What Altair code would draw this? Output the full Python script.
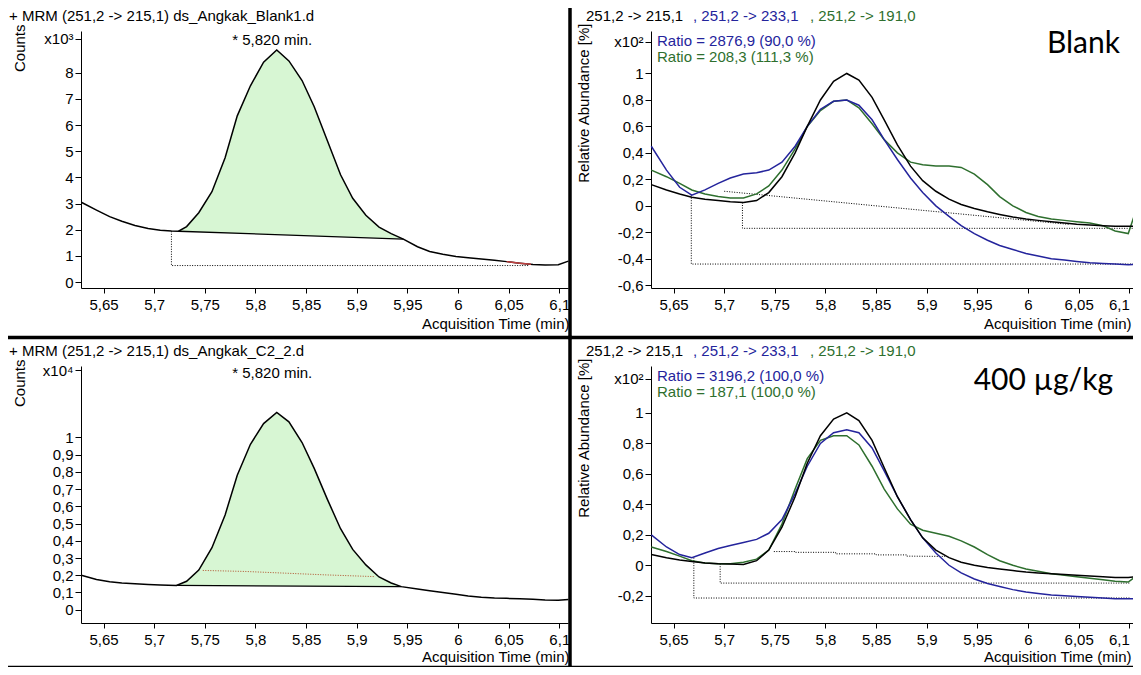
import altair as alt
import pandas as pd
import numpy as np

FONT = "Liberation Sans"
BIG_FONT = "Lato"
FS = 15
BLACK = "#000000"
BLUE = "#24249c"
GREEN = "#2e6f2e"
FILL = "#d7f6d3"
RED = "#c04040"

W = 487
H = 257
X_DOMAIN = [5.6277, 6.1086]
X_TICKS = [5.65, 5.70, 5.75, 5.80, 5.85, 5.90, 5.95, 6.00, 6.05, 6.10]

# ---------------- top-left: Blank, counts x10^3 ----------------
TL_T = [5.628, 5.643, 5.656, 5.668, 5.681, 5.694, 5.706, 5.717, 5.724, 5.732,
        5.744, 5.757, 5.770, 5.782, 5.795, 5.808, 5.821, 5.833, 5.846, 5.858,
        5.871, 5.884, 5.896, 5.909, 5.922, 5.934, 5.946, 5.960, 5.972, 5.985,
        5.998, 6.010, 6.023, 6.036, 6.048, 6.061, 6.074, 6.086, 6.099, 6.109]
TL_V = [3.05, 2.75, 2.50, 2.32, 2.16, 2.05, 1.98, 1.95, 1.94, 2.12,
        2.65, 3.45, 4.75, 6.35, 7.50, 8.40, 8.87, 8.45, 7.70, 6.70,
        5.40, 4.10, 3.20, 2.55, 2.10, 1.85, 1.64, 1.35, 1.17, 1.06,
        0.98, 0.93, 0.88, 0.83, 0.78, 0.72, 0.67, 0.65, 0.66, 0.80]
TL_BASE_T = [5.724, 5.946]
TL_BASE_V = [1.94, 1.64]
TL_DOT_T = [5.717, 5.717, 6.070]
TL_DOT_V = [1.94, 0.63, 0.63]
TL_RED_T = [6.048, 6.061, 6.072]
TL_Y_TICKS = [0, 1, 2, 3, 4, 5, 6, 7, 8]
TL_Y_DOMAIN = [-0.228, 9.593]
TL_TOP = 9.29

# ---------------- bottom-left: 400 ug/kg, counts x10^4 ----------------
BL_T = [5.628, 5.643, 5.656, 5.668, 5.681, 5.694, 5.706, 5.722, 5.732, 5.744,
        5.757, 5.770, 5.782, 5.795, 5.808, 5.821, 5.833, 5.846, 5.858, 5.871,
        5.884, 5.896, 5.909, 5.922, 5.934, 5.944, 5.960, 5.972, 5.985, 5.998,
        6.010, 6.023, 6.036, 6.048, 6.061, 6.074, 6.086, 6.099, 6.109]
BL_V = [0.200, 0.175, 0.162, 0.155, 0.150, 0.146, 0.143, 0.141, 0.165, 0.230,
        0.360, 0.550, 0.780, 0.960, 1.080, 1.145, 1.090, 0.970, 0.820, 0.640,
        0.470, 0.350, 0.260, 0.190, 0.155, 0.134, 0.120, 0.110, 0.100, 0.090,
        0.080, 0.072, 0.068, 0.066, 0.064, 0.061, 0.056, 0.055, 0.060]
BL_BASE_T = [5.722, 5.944]
BL_BASE_V = [0.141, 0.134]
BL_DOT_T = [5.748, 5.790, 5.830, 5.870, 5.918]
BL_DOT_V = [0.228, 0.222, 0.212, 0.202, 0.192]
BL_Y_TICKS = [0, 0.1, 0.2, 0.3, 0.4, 0.5, 0.6, 0.7, 0.8, 0.9, 1.0]
BL_Y_DOMAIN = [-0.077, 1.414]
BL_TOP = 1.39

# ---------------- right panels: relative abundance x10^2 ----------------
T = [5.628, 5.643, 5.656, 5.668, 5.681, 5.694, 5.706, 5.719, 5.732, 5.744,
     5.757, 5.770, 5.782, 5.795, 5.808, 5.821, 5.833, 5.846, 5.858, 5.871,
     5.884, 5.896, 5.909, 5.922, 5.934, 5.947, 5.960, 5.972, 5.985, 5.998,
     6.010, 6.023, 6.036, 6.048, 6.061, 6.074, 6.086, 6.099, 6.109]
TR_BLACK = [0.16, 0.12, 0.09, 0.065, 0.05, 0.04, 0.03, 0.025, 0.04, 0.10,
            0.22, 0.40, 0.60, 0.80, 0.94, 1.00, 0.95, 0.82, 0.65, 0.46,
            0.30, 0.19, 0.11, 0.05, 0.01, -0.02, -0.045, -0.065, -0.085, -0.10,
            -0.11, -0.12, -0.13, -0.14, -0.145, -0.15, -0.155, -0.155, -0.155]
TR_BLUE = [0.45, 0.27, 0.14, 0.08, 0.12, 0.17, 0.21, 0.24, 0.25, 0.27,
           0.33, 0.45, 0.60, 0.73, 0.79, 0.80, 0.76, 0.65, 0.50, 0.35,
           0.21, 0.10, 0.00, -0.08, -0.15, -0.21, -0.26, -0.30, -0.33, -0.36,
           -0.38, -0.40, -0.41, -0.42, -0.43, -0.435, -0.44, -0.445, -0.44]
TR_GREEN = [0.27, 0.22, 0.17, 0.12, 0.09, 0.07, 0.06, 0.06, 0.09, 0.15,
            0.27, 0.43, 0.60, 0.72, 0.79, 0.80, 0.74, 0.62, 0.50, 0.40,
            0.33, 0.31, 0.30, 0.30, 0.29, 0.24, 0.16, 0.07, 0.00, -0.05,
            -0.08, -0.10, -0.11, -0.12, -0.13, -0.15, -0.19, -0.21, 0.02]
BR_BLACK = [0.07, 0.05, 0.035, 0.025, 0.015, 0.01, 0.008, 0.005, 0.03, 0.10,
            0.25, 0.45, 0.67, 0.85, 0.96, 1.00, 0.95, 0.82, 0.64, 0.45,
            0.30, 0.18, 0.10, 0.05, 0.02, 0.00, -0.015, -0.025, -0.035, -0.045,
            -0.05, -0.055, -0.06, -0.065, -0.07, -0.075, -0.08, -0.08, -0.075]
BR_BLUE = [0.20, 0.12, 0.07, 0.05, 0.08, 0.11, 0.13, 0.15, 0.17, 0.21,
           0.30, 0.47, 0.65, 0.80, 0.87, 0.89, 0.87, 0.77, 0.62, 0.45,
           0.30, 0.18, 0.08, 0.00, -0.05, -0.09, -0.12, -0.14, -0.16, -0.175,
           -0.185, -0.195, -0.20, -0.205, -0.21, -0.215, -0.22, -0.22, -0.22]
BR_GREEN = [0.12, 0.09, 0.06, 0.03, 0.015, 0.01, 0.01, 0.02, 0.04, 0.10,
            0.27, 0.50, 0.70, 0.82, 0.85, 0.85, 0.79, 0.65, 0.50, 0.37,
            0.27, 0.23, 0.21, 0.19, 0.16, 0.12, 0.07, 0.03, 0.00, -0.025,
            -0.04, -0.055, -0.065, -0.075, -0.085, -0.095, -0.105, -0.11, -0.06]

TR_DOTS = [
    ([5.6675, 5.6675, 6.105], [0.08, -0.44, -0.44]),
    ([5.718, 5.718, 6.105], [0.025, -0.17, -0.17]),
    ([5.700, 6.040], [0.11, -0.14]),
]
BR_DOTS = [
    ([5.670, 5.670, 6.101], [0.05, -0.215, -0.215]),
    ([5.696, 5.696, 6.101], [0.01, -0.117, -0.117]),
    ([5.749, 5.770, 5.770, 5.810, 5.810, 5.850, 5.850, 5.880, 5.880, 5.918],
     [0.090, 0.090, 0.085, 0.085, 0.075, 0.075, 0.068, 0.068, 0.060, 0.058]),
]
TR_Y_TICKS = [-0.6, -0.4, -0.2, 0, 0.2, 0.4, 0.6, 0.8, 1.0]
TR_Y_DOMAIN = [-0.621, 1.321]
TR_TOP = 1.238
BR_Y_TICKS = [-0.2, 0, 0.2, 0.4, 0.6, 0.8, 1.0]
BR_Y_DOMAIN = [-0.379, 1.308]
BR_TOP = 1.223

TITLE_TL = "+ MRM (251,2 -> 215,1) ds_Angkak_Blank1.d"
TITLE_BL = "+ MRM (251,2 -> 215,1) ds_Angkak_C2_2.d"
HEAD_R = ["251,2 -> 215,1", ", 251,2 -> 233,1", ", 251,2 -> 191,0"]
RATIO_TR = ["Ratio = 2876,9 (90,0 %)", "Ratio = 208,3 (111,3 %)"]
RATIO_BR = ["Ratio = 3196,2 (100,0 %)", "Ratio = 187,1 (100,0 %)"]
PEAK_LABEL = "* 5,820 min."

one = pd.DataFrame({"a": [0]})
xs = alt.Scale(domain=X_DOMAIN, nice=False, zero=False)


def xaxis(title_x, title_y, flush_last):
    extra = {}
    if flush_last:
        extra["labelAlign"] = alt.condition("datum.value > 6.09",
                                            alt.value("right"), alt.value("center"))
    return alt.Axis(values=X_TICKS, format=".2~f",
                    labelExpr="replace(datum.label, '.', ',')",
                    title="Acquisition Time (min)", titleAlign="right",
                    titleX=title_x, titleY=title_y, titleBaseline="middle",
                    titleFontWeight="normal", titleFont=FONT, titleFontSize=FS,
                    titleColor=BLACK, labelFont=FONT, labelFontSize=FS,
                    labelColor=BLACK, tickColor=BLACK, domainColor=BLACK,
                    tickSize=5, labelPadding=4, grid=False,
                    labelOverlap=False, labelFlush=False, **extra)


def yaxis(ticks, fmt, top_val, top_label, title, tx, ty):
    expr = ("datum.value > %f ? '%s' : replace(replace(datum.label, '.', ','), '\u2212', '-')"
            % (top_val - 0.001, top_label))
    return alt.Axis(values=ticks + [top_val], format=fmt, labelExpr=expr,
                    title=title, titleAngle=270, titleAlign="right",
                    titleBaseline="middle", titleX=tx, titleY=ty,
                    titleFontWeight="normal", titleFont=FONT, titleFontSize=FS,
                    titleColor=BLACK, labelFont=FONT, labelFontSize=FS,
                    labelColor=BLACK, tickColor=BLACK, domainColor=BLACK,
                    tickSize=6, labelPadding=2, grid=False,
                    labelOverlap=False, labelFlush=False)


def txt(s, x, y, color=BLACK, size=FS, align="left", font=FONT):
    return alt.Chart(one).mark_text(text=s, align=align, baseline="middle",
                                    font=font, fontSize=size, color=color
                                    ).encode(x=alt.value(x), y=alt.value(y))


def rule(x, x2, y, y2, color=BLACK, sw=3.0):
    return alt.Chart(one).mark_rule(color=color, strokeWidth=sw).encode(
        x=alt.value(x), x2=alt.value(x2), y=alt.value(y), y2=alt.value(y2))


def line(ts, vs, X, Y, color, sw=1.5, dash=None):
    df = pd.DataFrame({"t": ts, "v": vs, "o": list(range(len(ts)))})
    kw = dict(color=color, strokeWidth=sw)
    if dash:
        kw["strokeDash"] = dash
    return alt.Chart(df).mark_line(**kw).encode(x=X, y=Y, order=alt.Order("o:Q"))


def left_panel(ts, vs, base_t, base_v, dot_layers, yticks, fmt, ydom, top, top_label,
               title, peak_v, title_y, red_t=None):
    X = alt.X("t:Q", scale=xs, axis=xaxis(W + 1, title_y, False))
    Y = alt.Y("v:Q", scale=alt.Scale(domain=ydom, nice=False, zero=False),
              axis=yaxis(yticks, fmt, top, top_label, "Counts", -62, -7))
    ts_a = np.array(ts)
    vs_a = np.array(vs)
    m = (ts_a >= base_t[0] - 1e-9) & (ts_a <= base_t[-1] + 1e-9)
    fill_df = pd.DataFrame({"t": ts_a[m], "v": vs_a[m],
                            "b": np.interp(ts_a[m], base_t, base_v)})
    layers = [
        alt.Chart(fill_df).mark_area(color=FILL, opacity=1).encode(
            x=X, y=Y, y2=alt.Y2("b:Q")),
        line(base_t, base_v, X, Y, BLACK, 1.3),
    ]
    for (dt, dv, col) in dot_layers:
        layers.append(line(dt, dv, X, Y, col, 1.0, [1, 1.5]))
    layers.append(line(ts, vs, X, Y, BLACK, 1.5))
    if red_t is not None:
        layers.append(line(red_t, list(np.interp(red_t, ts, vs)), X, Y, RED, 1.5))
    pk = pd.DataFrame({"t": [5.8165], "v": [peak_v], "s": [PEAK_LABEL]})
    layers.append(alt.Chart(pk).mark_text(font=FONT, fontSize=FS, color=BLACK,
                                          baseline="middle").encode(x=X, y=Y, text="s:N"))
    layers.append(txt(title, -72, -15))
    return layers


# ---------- top-left ----------
tl_layers = left_panel(TL_T, TL_V, TL_BASE_T, TL_BASE_V,
                       [(TL_DOT_T, TL_DOT_V, BLACK)], TL_Y_TICKS, "d",
                       TL_Y_DOMAIN, TL_TOP, "x10\u00b3\u00a0\u00a0", TITLE_TL, 9.25, 35,
                       TL_RED_T)
tl_layers += [
    rule(489, 489, -40, 308, BLACK, 3.5),          # vertical divider
    rule(-90, 491, 306.5, 306.5, BLACK, 3.5),      # horizontal divider
]
tl = alt.layer(*tl_layers).properties(width=W, height=H)

# ---------- bottom-left ----------
bl_layers = left_panel(BL_T, BL_V, BL_BASE_T, BL_BASE_V,
                       [(BL_DOT_T, BL_DOT_V, "#b0502a")], BL_Y_TICKS, ".1~f",
                       BL_Y_DOMAIN, BL_TOP, "x10\u2074", TITLE_BL, 1.374, 33)
bl_layers += [
    rule(489, 489, -30, 302, BLACK, 3.5),
    rule(-90, 491, 300.8, 300.8, BLACK, 2.0),
]
bl = alt.layer(*bl_layers).properties(width=W, height=H)


def right_panel(black, blue, green, dots, yticks, ydom, top, ratios, big, big_x, big_y,
                bottom):
    X = alt.X("t:Q", scale=xs, axis=xaxis(480, 33 if bottom else 35, True))
    Y = alt.Y("v:Q", scale=alt.Scale(domain=ydom, nice=False, zero=False),
              axis=yaxis(yticks, ".1~f", top, "x10\u00b2", "Relative Abundance [%]",
                         -68, -8))
    layers = []
    for (dt, dv) in dots:
        layers.append(line(dt, dv, X, Y, BLACK, 1.0, [1, 1.5]))
    layers += [
        line(T, green, X, Y, GREEN, 1.5),
        line(T, blue, X, Y, BLUE, 1.5),
        line(T, black, X, Y, BLACK, 1.5),
        txt(HEAD_R[0], -65, -15, BLACK),
        txt(HEAD_R[1], 42, -15, BLUE),
        txt(HEAD_R[2], 159, -15, GREEN),
        txt(ratios[0], 6, 10, BLUE),
        txt(ratios[1], 6, 26, GREEN),
        txt(big, big_x, big_y, BLACK, 30, "right", BIG_FONT),
    ]
    if bottom:
        layers += [rule(487.5, 487.5, -30, 302, BLACK, 2.0),
                   rule(-83, 490, 300.8, 300.8, BLACK, 2.0)]
    else:
        layers += [rule(487.5, 487.5, -40, 308, BLACK, 2.0),
                   rule(-83, 490, 306.5, 306.5, BLACK, 3.5)]
    return alt.layer(*layers).properties(width=W, height=H)


tr = right_panel(TR_BLACK, TR_BLUE, TR_GREEN, TR_DOTS, TR_Y_TICKS, TR_Y_DOMAIN, TR_TOP,
                 RATIO_TR, "Blank", 469, 13, False)
br = right_panel(BR_BLACK, BR_BLUE, BR_GREEN, BR_DOTS, BR_Y_TICKS, BR_Y_DOMAIN, BR_TOP,
                 RATIO_BR, "400 \u00b5g/kg", 462, 15, True)

# Fixed canvas: plot areas sit exactly where they are in the reference;
# anything beyond the canvas (outer frame) is clipped.
chart = alt.concat(tl, tr, bl, br, columns=2, spacing={"row": 78, "column": 83},
                   bounds="flush").properties(
    autosize=alt.AutoSizeParams(type="none"),
    padding={"left": 73, "top": 23, "right": 1052, "bottom": 636},
    background="white",
).configure_view(stroke=None)

chart.save("out.html", embed_options={"renderer": "svg", "actions": False})
